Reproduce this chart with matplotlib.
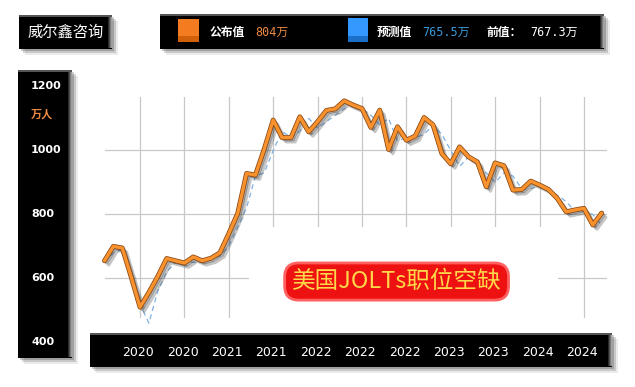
import matplotlib
matplotlib.use('Agg')
import matplotlib.pyplot as plt
import matplotlib.patheffects as pe
from matplotlib.patches import Rectangle
from matplotlib.transforms import blended_transform_factory

plt.rcParams['font.family'] = ['DejaVu Sans', 'Noto Sans CJK SC']

# monthly JOLTS job openings, 10k persons (万人)
actual = [655, 700, 695, 605, 510, 556, 606, 662, 655, 648,
          667, 655, 663, 680, 740, 803, 928, 923, 1005, 1095,
          1040, 1040, 1105, 1058, 1090, 1125, 1130, 1155, 1142, 1131,
          1072, 1126, 1003, 1074, 1032, 1045, 1103, 1080, 990, 958,
          1011, 980, 964, 886, 961, 952, 876, 878, 904, 892,
          878, 850, 808, 814, 819, 767, 804]
forecast = [650, 680, 690, 620, 520, 460, 560, 620, 650, 650,
            650, 650, 660, 670, 700, 760, 820, 920, 930, 1000,
            1060, 1040, 1060, 1100, 1070, 1090, 1110, 1130, 1150, 1130,
            1110, 1080, 1100, 1030, 1040, 1040, 1050, 1080, 1050, 1000,
            950, 980, 960, 930, 900, 930, 920, 880, 880, 890,
            880, 860, 840, 810, 810, 800, 766]
tick_pos = [4, 9, 14, 19, 24, 29, 34, 39, 44, 49, 54]
tick_labels = ['2020', '2020', '2021', '2021', '2022', '2022', '2022',
               '2023', '2023', '2024', '2024']
y_ticks = [1200, 1000, 800, 600, 400]

fig = plt.figure(figsize=(6.35, 3.87), dpi=100)
fig.patch.set_facecolor('white')

# background layer in pixel coords for the black panels
bg = fig.add_axes([0, 0, 1, 1])
bg.set_xlim(0, 635)
bg.set_ylim(387, 0)
bg.axis('off')


def black_box(x0, y0, x1, y1):
    w, h = x1 - x0, y1 - y0
    for off, a in [(6, 0.08), (4, 0.15), (2, 0.2)]:
        bg.add_patch(Rectangle((x0 + off, y0 + off), w, h, fc='black', ec='none', alpha=a))
    bg.add_patch(Rectangle((x0, y0), w, h, fc='black', ec='none'))
    # bevel on the right / top
    for i, c in enumerate(['#2a2a2a', '#505050', '#7a7a7a', '#a0a0a0']):
        bg.add_patch(Rectangle((x1 - 4 + i, y0 + 1), 1.2, h - 2, fc=c, ec='none'))
    bg.add_patch(Rectangle((x0, y0), w, 1.5, fc='#555555', ec='none'))


black_box(19, 15, 112, 49)
black_box(160, 14, 604, 49)
black_box(18, 70, 72, 358)
black_box(90, 333, 612, 367)

bg.text(66, 32.5, '威尔鑫咨询', color='white', fontsize=11, ha='center', va='center',
        family=['Noto Sans CJK SC'])

# legend bar
bg.add_patch(Rectangle((178, 19), 21, 23, fc='#f47c20', ec='none'))
bg.add_patch(Rectangle((178, 36), 21, 6, fc='#d0600a', ec='none'))
bg.add_patch(Rectangle((348, 18), 20, 24, fc='#3399ff', ec='none'))
bg.add_patch(Rectangle((348, 36), 20, 6, fc='#1a70c8', ec='none'))
bg.text(210, 32, '公布值', color='white', fontsize=8.5, fontweight='bold', va='center',
        family=['Noto Sans CJK SC'])
bg.text(255, 32, '804万', color='#f08a40', fontsize=8.5, va='center',
        family=['DejaVu Sans Mono', 'Noto Sans CJK SC'])
bg.text(377, 32, '预测值', color='white', fontsize=8.5, fontweight='bold', va='center',
        family=['Noto Sans CJK SC'])
bg.text(422, 32, '765.5万', color='#3a9ad9', fontsize=8.5, va='center',
        family=['DejaVu Sans Mono', 'Noto Sans CJK SC'])
bg.text(486, 32, '前值：', color='white', fontsize=8.5, fontweight='bold', va='center',
        family=['Noto Sans CJK SC'])
bg.text(530, 32, '767.3万', color='white', fontsize=8.5, va='center',
        family=['DejaVu Sans Mono', 'Noto Sans CJK SC'])

# plot area
L, R, T, B = 104.5, 607, 97, 318
ax = fig.add_axes([L / 635, 1 - B / 387, (R - L) / 635, (B - T) / 387])
ax.patch.set_alpha(0)
ax.set_xlim(0, 56.6)
ax.set_ylim(476, 1167)
for s in ax.spines.values():
    s.set_visible(False)
ax.set_xticks([])
ax.set_yticks([])

for t in tick_pos:
    ax.axvline(t, color='#c8c8c8', lw=0.9, zorder=1)
for v in [600, 800, 1000]:
    ax.axhline(v, color='#c8c8c8', lw=0.9, zorder=1)

# white halo behind title covers the grid
ax.add_patch(Rectangle((16.3, 476), 34.8, 760 - 476, fc='white', ec='none', zorder=2))

x = list(range(len(actual)))
ax.plot(x, forecast, color='#7fb0e0', lw=0.9, ls=(0, (4, 3)), zorder=3, clip_on=False)
ax.plot(x, actual, color='#f7922e', lw=2.4, zorder=4, clip_on=False,
        solid_joinstyle='round', solid_capstyle='round',
        path_effects=[pe.SimpleLineShadow(offset=(3, -3), shadow_color='#404040', alpha=0.3),
                      pe.SimpleLineShadow(offset=(1.5, -1.5), shadow_color='#303030', alpha=0.4),
                      pe.Stroke(linewidth=3.5, foreground='#8a4510'),
                      pe.Normal()])

# title
ax.text(32.9, 590, '美国JOLTs职位空缺', color='#ffd84a', fontsize=17, ha='center', va='center',
        family=['Noto Sans CJK SC'], zorder=5,
        bbox=dict(boxstyle='round,pad=0.3,rounding_size=0.6', fc='#ee1111', ec='#ff6060', lw=2))

# axis labels in the black bars
ty = blended_transform_factory(ax.transAxes, ax.transData)
for v in y_ticks:
    ax.text((31 - L) / (R - L), v, str(v), transform=ty, color='white', fontsize=8,
            fontweight='bold', va='center', ha='left')
ax.text((31 - L) / (R - L), 1112, '万人', transform=ty, color='#f08a40', fontsize=8,
        fontweight='bold', va='center', ha='left', family=['Noto Sans CJK SC'])

tx = blended_transform_factory(ax.transData, ax.transAxes)
for p, lab in zip(tick_pos, tick_labels):
    ax.text(p - 0.2, (B - 352) / (B - T), lab, transform=tx, color='white', fontsize=9,
            ha='center', va='center')

fig.savefig('out.png', dpi=100)
